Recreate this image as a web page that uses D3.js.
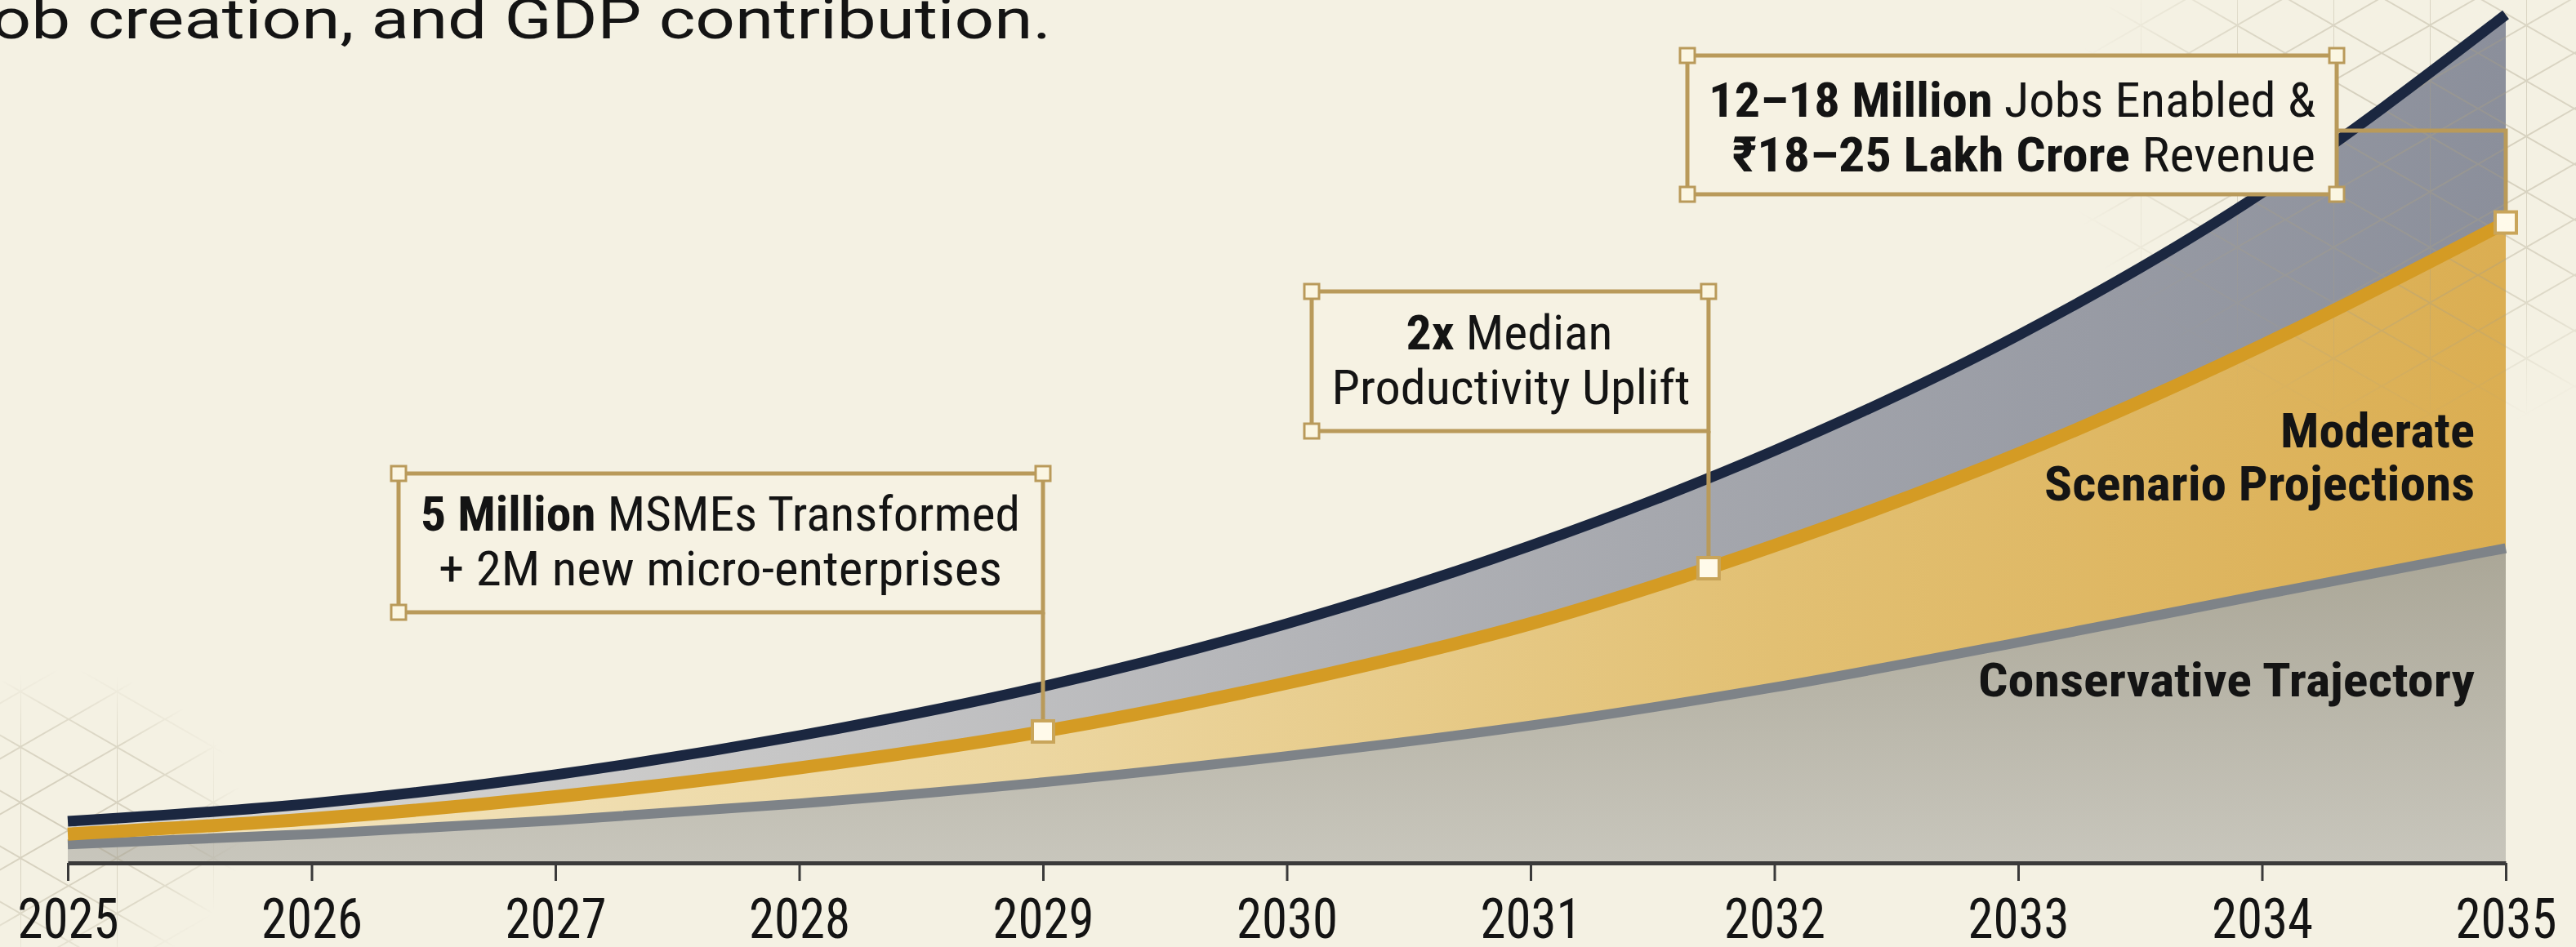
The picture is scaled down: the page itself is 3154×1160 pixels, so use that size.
<!DOCTYPE html>
<html>
<head>
<meta charset="utf-8">
<script src="https://cdn.jsdelivr.net/npm/d3@7"></script>
<style>
  html, body { margin: 0; padding: 0; background: #f4f1e3; }
  svg { display: block; }
</style>
</head>
<body>
<div id="chart"></div>
<script>
// projection years and the three scenario curves (index, aspirational 2035 = 100)
const years = [2025, 2026, 2027, 2028, 2029, 2030, 2031, 2032, 2033, 2034, 2035];
const aspirational = [4.9, 7.0, 10.4, 15.0, 20.8, 28.2, 37.4, 48.6, 62.2, 79.0, 100];
const moderate = [3.4, 5.2, 7.8, 11.2, 15.5, 21.2, 28.2, 37.4, 48.2, 61.0, 75.5];
const conservative = [2.2, 3.4, 5.0, 7.0, 9.5, 12.6, 16.2, 20.7, 26.0, 31.6, 37.1];
const tickYears = [2025, 2026, 2027, 2028, 2029, 2030, 2031, 2032, 2033, 2034, 2035];
const milestoneYears = [2029, 2031.73, 2035];

const W = 3154, H = 1160;
const FONT = "'Roboto Condensed', 'Liberation Sans Narrow', Roboto, 'DejaVu Sans', sans-serif";
const GOLD = "#b99a5a";

const svg = d3.select("#chart").append("svg")
    .attr("width", W)
    .attr("height", H);

svg.append("rect").attr("width", W).attr("height", H).attr("fill", "#f4f1e3");

const x = d3.scaleLinear().domain([2025, 2035]).range([83, 3068]);
const y = d3.scaleLinear().domain([0, 100]).range([1057, 18]);

const defs = svg.append("defs");

function hGrad(id, stops, vertical) {
    const g = defs.append("linearGradient").attr("id", id)
        .attr("gradientUnits", "userSpaceOnUse");
    if (vertical) g.attr("x1", 0).attr("x2", 0).attr("y1", 640).attr("y2", 1057);
    else g.attr("x1", 83).attr("x2", 3068).attr("y1", 0).attr("y2", 0);
    stops.forEach(s => g.append("stop").attr("offset", s[0]).attr("stop-color", s[1]));
}
hGrad("slate", [[0, "#dcdbd6"], [0.35, "#c2c2c3"], [0.65, "#a6a8ae"], [1, "#8b8f9b"]]);
hGrad("gold", [[0, "#f3e6c2"], [0.4, "#ecd6a0"], [0.7, "#e2c073"], [1, "#dbae52"]]);
hGrad("stone", [[0, "#a8a494"], [1, "#c8c6bc"]], true);

// lattice decoration
const pat = defs.append("pattern").attr("id", "lattice")
    .attr("patternUnits", "userSpaceOnUse")
    .attr("width", 118).attr("height", 68)
    .attr("x", 25).attr("y", 949);
pat.append("path")
    .attr("d", "M0,34L59,0L118,34L59,68Z M0,0V68")
    .attr("fill", "none")
    .attr("stroke", "#a89f86")
    .attr("stroke-width", 2);

const rg = defs.append("radialGradient").attr("id", "fade");
rg.append("stop").attr("offset", 0).attr("stop-color", "#fff").attr("stop-opacity", 1);
rg.append("stop").attr("offset", 0.6).attr("stop-color", "#fff").attr("stop-opacity", 0.7);
rg.append("stop").attr("offset", 1).attr("stop-color", "#fff").attr("stop-opacity", 0);
const mask = defs.append("mask").attr("id", "latticeMask")
    .attr("maskUnits", "userSpaceOnUse")
    .attr("x", 0).attr("y", 0).attr("width", W).attr("height", H);
mask.append("ellipse").attr("cx", 2960).attr("cy", 170).attr("rx", 430).attr("ry", 360).attr("fill", "url(#fade)");
mask.append("ellipse").attr("cx", 80).attr("cy", 1010).attr("rx", 220).attr("ry", 190).attr("fill", "url(#fade)");

// subtitle fragment at the top
svg.append("text")
    .attr("x", 1287).attr("y", 47)
    .attr("text-anchor", "end")
    .attr("font-family", "Roboto, 'DejaVu Sans', sans-serif")
    .attr("font-size", 68)
    .attr("fill", "#141414")
    .attr("textLength", 1318)
    .attr("lengthAdjust", "spacingAndGlyphs")
    .text("job creation, and GDP contribution.");

const rows = years.map((yr, i) => ({
    year: yr, asp: aspirational[i], mod: moderate[i], con: conservative[i]
}));

function area(key) {
    return d3.area()
        .x(d => x(d.year))
        .y0(y(0))
        .y1(d => y(d[key]))
        .curve(d3.curveMonotoneX);
}
function line(key) {
    return d3.line()
        .x(d => x(d.year))
        .y(d => y(d[key]))
        .curve(d3.curveMonotoneX);
}

svg.append("path").datum(rows).attr("d", area("asp")).attr("fill", "url(#slate)");
svg.append("path").datum(rows).attr("d", area("mod")).attr("fill", "url(#gold)");
svg.append("path").datum(rows).attr("d", area("con")).attr("fill", "url(#stone)");

svg.append("rect").attr("width", W).attr("height", H)
    .attr("fill", "url(#lattice)")
    .attr("mask", "url(#latticeMask)")
    .attr("opacity", 0.45);

svg.append("path").datum(rows).attr("d", line("con"))
    .attr("fill", "none").attr("stroke", "#7e8388").attr("stroke-width", 12);
const modLine = svg.append("path").datum(rows).attr("d", line("mod"))
    .attr("fill", "none").attr("stroke", "#d49b24").attr("stroke-width", 16);
svg.append("path").datum(rows).attr("d", line("asp"))
    .attr("fill", "none").attr("stroke", "#1b2740").attr("stroke-width", 13);

// x axis
const axisG = svg.append("g")
    .attr("transform", `translate(0,${y(0)})`)
    .call(d3.axisBottom(x)
        .tickValues(tickYears)
        .tickFormat(d3.format("d"))
        .tickSize(22)
        .tickSizeOuter(0));
axisG.select(".domain").attr("stroke", "#3a3a3a").attr("stroke-width", 5);
axisG.selectAll(".tick line").attr("stroke", "#3a3a3a").attr("stroke-width", 3);
axisG.selectAll(".tick text")
    .attr("y", 92).attr("dy", 0)
    .attr("font-family", FONT)
    .attr("font-size", 68)
    .attr("fill", "#141414")
    .attr("textLength", 124)
    .attr("lengthAdjust", "spacingAndGlyphs");

// y position of the moderate line at a given year
function onModerate(year) {
    const node = modLine.node();
    const px = x(year);
    let lo = 0, hi = node.getTotalLength();
    for (let k = 0; k < 40; k++) {
        const mid = (lo + hi) / 2;
        if (node.getPointAtLength(mid).x < px) lo = mid; else hi = mid;
    }
    return node.getPointAtLength(lo).y;
}

function label(xp, yp, anchor, parts, len, size) {
    const t = svg.append("text")
        .attr("x", xp).attr("y", yp)
        .attr("text-anchor", anchor)
        .attr("font-family", FONT)
        .attr("font-size", size || 60)
        .attr("fill", "#141414")
        .attr("textLength", len)
        .attr("lengthAdjust", "spacingAndGlyphs");
    parts.forEach(p => t.append("tspan").attr("font-weight", p[1] ? 700 : 400).text(p[0]));
}

function corner(cx, cy) {
    svg.append("rect")
        .attr("x", cx - 9).attr("y", cy - 9)
        .attr("width", 18).attr("height", 18)
        .attr("fill", "#fbf6e2").attr("stroke", GOLD).attr("stroke-width", 3);
}

function box(l, t, r, b) {
    svg.append("rect")
        .attr("x", l).attr("y", t)
        .attr("width", r - l).attr("height", b - t)
        .attr("fill", "#f6f2e3")
        .attr("stroke", GOLD).attr("stroke-width", 5);
}

function marker(mx, my) {
    svg.append("rect")
        .attr("x", mx - 13).attr("y", my - 13)
        .attr("width", 26).attr("height", 26)
        .attr("fill", "#fffaea").attr("stroke", "#c9a55a").attr("stroke-width", 4);
}

// callout 1
{
    const ax = x(milestoneYears[0]), ay = onModerate(milestoneYears[0]);
    box(488, 580, ax, 750);
    svg.append("line").attr("x1", ax).attr("x2", ax).attr("y1", 750).attr("y2", ay)
        .attr("stroke", GOLD).attr("stroke-width", 5);
    corner(488, 580); corner(ax, 580); corner(488, 750);
    marker(ax, ay);
    label(882, 650, "middle", [["5 Million", true], [" MSMEs Transformed", false]], 734);
    label(882, 717, "middle", [["+ 2M new micro-enterprises", false]], 690);
}
// callout 2
{
    const ax = x(milestoneYears[1]), ay = onModerate(milestoneYears[1]);
    box(1606, 357, ax, 528);
    svg.append("line").attr("x1", ax).attr("x2", ax).attr("y1", 528).attr("y2", ay)
        .attr("stroke", GOLD).attr("stroke-width", 5);
    corner(1606, 357); corner(ax, 357); corner(1606, 528);
    marker(ax, ay);
    label(1848, 428, "middle", [["2x", true], [" Median", false]], 253);
    label(1850, 495, "middle", [["Productivity Uplift", false]], 439);
}
// callout 3
{
    const ax = x(milestoneYears[2]), ay = onModerate(milestoneYears[2]);
    svg.append("path")
        .attr("d", `M2861,160H${ax}V${ay}`)
        .attr("fill", "none").attr("stroke", GOLD).attr("stroke-width", 5);
    box(2066, 68, 2861, 238);
    corner(2066, 68); corner(2861, 68); corner(2066, 238); corner(2861, 238);
    marker(ax, ay);
    label(2835, 143, "end", [["12–18 Million", true], [" Jobs Enabled &", false]], 743);
    label(2835, 210, "end", [["₹18–25 Lakh Crore", true], [" Revenue", false]], 714);
}

// scenario labels
label(3030, 548, "end", [["Moderate", true]], 238);
label(3030, 613, "end", [["Scenario Projections", true]], 527);
label(3030, 853, "end", [["Conservative Trajectory", true]], 608, 58);
</script>
</body>
</html>
